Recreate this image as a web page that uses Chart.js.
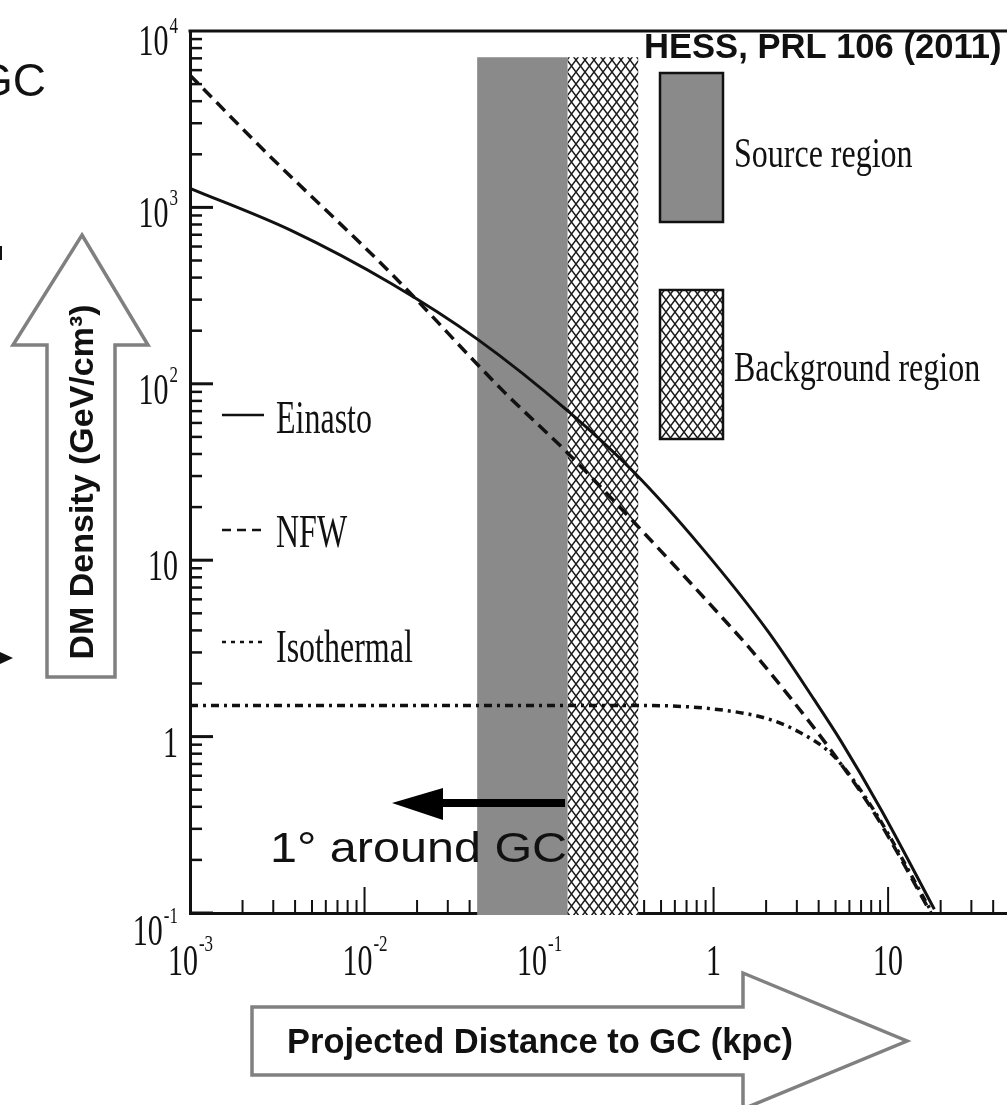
<!DOCTYPE html>
<html><head><meta charset="utf-8">
<script src="https://cdn.jsdelivr.net/npm/chart.js@4.4.0/dist/chart.umd.min.js"></script>
<style>html,body{margin:0;padding:0;background:#fff;overflow:hidden}canvas{display:block}</style>
</head><body><canvas id="c" width="1007" height="1105"></canvas>
<script>
// ---- data (kpc, GeV/cm^3) ----
const seriesNames = ['Einasto', 'NFW', 'Isothermal'];
const einastoX = [0.001, 0.00379, 0.0142, 0.0447, 0.1466, 0.350, 0.847, 2.05, 3.77, 5.38, 9.12, 18.4];
const einastoY = [1282, 740, 370, 178, 70, 31.5, 11.9, 3.95, 1.62, 0.94, 0.385, 0.105];
const nfwX = [0.001, 0.00265, 0.0142, 0.063, 0.1466, 0.350, 1.21, 1.64, 2.78, 4.91, 8.32, 17.6];
const nfwY = [5620, 2108, 422, 90, 40.3, 16.4, 4.35, 3.1, 1.64, 0.79, 0.37, 0.1];
const isoX = [0.001, 0.1, 0.42, 1.15, 2.05, 3.05, 4.91, 8.32, 17.6];
const isoY = [1.5, 1.5, 1.5, 1.41, 1.26, 1.07, 0.77, 0.38, 0.103];

const regionNames = ['Source region', 'Background region'];
const regionX0 = [0.0442, 0.146];
const regionX1 = [0.146, 0.37];
const regionTop = [7100, 7100];

const xMin = 0.001, xMax = 48, yMin = 0.1, yMax = 10000;
const xMajorTicks = [0.001, 0.01, 0.1, 1, 10];
const xTickBase = ['10', '10', '10', '1', '10'];
const xTickExp = ['-3', '-2', '-1', '', ''];
const yMajorTicks = [0.1, 1, 10, 100, 1000, 10000];
const yTickBase = ['10', '1', '10', '10', '10', '10'];
const yTickExp = ['-1', '', '', '2', '3', '4'];

const titleText = 'HESS, PRL 106 (2011)';
const xTitle = 'Projected Distance to GC (kpc)';
const yTitle = 'DM Density (GeV/cm³)';
const annoText = '1° around GC';

function pts(xs, ys) { return xs.map((x, i) => ({ x: x, y: ys[i] })); }

const SERIF = '"Liberation Serif", "Times New Roman", serif';
const SANS = '"Liberation Sans", Arial, sans-serif';

function sText(ctx, txt, x, y, px, sy, align, fam, weight, sx) {
  ctx.save();
  ctx.translate(x, y);
  ctx.scale(sx || 1, sy);
  ctx.font = (weight || 'normal') + ' ' + px + 'px ' + fam;
  ctx.textAlign = align || 'left';
  ctx.textBaseline = 'alphabetic';
  ctx.fillStyle = '#111';
  ctx.fillText(txt, 0, 0);
  ctx.restore();
}
function tw(ctx, txt, px, fam) { ctx.save(); ctx.font = px + 'px ' + fam; const w = ctx.measureText(txt).width; ctx.restore(); return w; }

function makeHatch(ctx) {
  const c = document.createElement('canvas');
  c.width = 9; c.height = 12;
  const g = c.getContext('2d');
  g.fillStyle = '#fff'; g.fillRect(0, 0, 9, 12);
  g.strokeStyle = '#1a1a1a'; g.lineWidth = 1.5;
  g.beginPath();
  g.moveTo(0, 0); g.lineTo(9, 12);
  g.moveTo(9, 0); g.lineTo(0, 12);
  g.stroke();
  return ctx.createPattern(c, 'repeat');
}

const GRAY = '#8a8a8a';

const overlay = {
  id: 'overlay',
  beforeDatasetsDraw(chart) {
    const ctx = chart.ctx, xs = chart.scales.x, ys = chart.scales.y, a = chart.chartArea;
    ctx.save();
    ctx.strokeStyle = '#111';
    for (let e = -1; e <= 3; e++) {
      for (let m = 1; m <= 9; m++) {
        const v = m * Math.pow(10, e);
        const py = ys.getPixelForValue(v);
        ctx.lineWidth = m === 1 ? 3 : 2.5;
        ctx.beginPath(); ctx.moveTo(a.left, py); ctx.lineTo(a.left + (m === 1 ? 23 : 12), py); ctx.stroke();
      }
    }
    for (let e = -3; e <= 1; e++) {
      for (let m = 1; m <= 9; m++) {
        const v = m * Math.pow(10, e);
        if (v > xMax) continue;
        const px = xs.getPixelForValue(v);
        ctx.lineWidth = 2;
        ctx.beginPath(); ctx.moveTo(px, a.bottom); ctx.lineTo(px, a.bottom - (m === 1 ? 26 : 13)); ctx.stroke();
      }
    }
    ctx.lineWidth = 3;
    ctx.beginPath(); ctx.moveTo(a.left - 1.5, a.top); ctx.lineTo(a.right, a.top); ctx.stroke();

    const hatch = makeHatch(ctx);
    for (let i = 0; i < regionNames.length; i++) {
      const x0 = xs.getPixelForValue(regionX0[i]), x1 = xs.getPixelForValue(regionX1[i]);
      const yt = ys.getPixelForValue(regionTop[i]);
      ctx.fillStyle = i === 0 ? GRAY : hatch;
      ctx.fillRect(x0, yt, x1 - x0, a.bottom + 2 - yt);
    }
    ctx.restore();
  },
  afterDraw(chart) {
    const ctx = chart.ctx, xs = chart.scales.x, ys = chart.scales.y, a = chart.chartArea;
    ctx.save();
    const FB = 30, FE = 17;
    for (let i = 0; i < xMajorTicks.length; i++) {
      const px = xs.getPixelForValue(xMajorTicks[i]);
      const wb = tw(ctx, xTickBase[i], FB, SERIF), we = xTickExp[i] ? tw(ctx, xTickExp[i], FE, SERIF) : 0;
      const sx = px - (wb + we) / 2;
      sText(ctx, xTickBase[i], sx, 975, FB, 1.45, 'left', SERIF);
      if (xTickExp[i]) sText(ctx, xTickExp[i], sx + wb + 1, 951, FE, 1.3, 'left', SERIF);
    }
    for (let i = 0; i < yMajorTicks.length; i++) {
      const py = ys.getPixelForValue(yMajorTicks[i]);
      let base = py + 20;
      if (i === 0) base = py + 32;
      if (i === yMajorTicks.length - 1) base = py + 24;
      const wb = tw(ctx, yTickBase[i], FB, SERIF), we = yTickExp[i] ? tw(ctx, yTickExp[i], FE, SERIF) : 0;
      const right = 178;
      const sx = right - wb - we - (we ? 1 : 0);
      sText(ctx, yTickBase[i], sx, base, FB, 1.45, 'left', SERIF);
      if (yTickExp[i]) sText(ctx, yTickExp[i], sx + wb + 1, base - 22, FE, 1.3, 'left', SERIF);
    }

    const legY = [415, 530, 642];
    const legTxtY = [433, 547, 662];
    const dashes = [[], [9, 6], [4, 5]];
    for (let i = 0; i < 3; i++) {
      ctx.strokeStyle = '#111'; ctx.lineWidth = 2.5;
      ctx.setLineDash(dashes[i]);
      ctx.beginPath(); ctx.moveTo(222, legY[i]); ctx.lineTo(264, legY[i]); ctx.stroke();
      ctx.setLineDash([]);
      sText(ctx, seriesNames[i], 276, legTxtY[i], 32, 1.43, 'left', SERIF);
    }

    const hatch = makeHatch(ctx);
    const boxY = [73, 290];
    const boxTxtY = [167, 381];
    for (let i = 0; i < 2; i++) {
      ctx.fillStyle = i === 0 ? GRAY : hatch;
      ctx.fillRect(660, boxY[i], 63, 149);
      ctx.strokeStyle = '#111'; ctx.lineWidth = 2.5;
      ctx.strokeRect(660, boxY[i], 63, 149);
      sText(ctx, regionNames[i], 734, boxTxtY[i], 32, 1.32, 'left', SERIF);
    }

    sText(ctx, titleText, 644, 58, 34.6, 1, 'left', SANS, 'bold');

    ctx.fillStyle = '#000';
    ctx.fillRect(440, 799, 125, 8);
    ctx.beginPath(); ctx.moveTo(392, 803); ctx.lineTo(443, 788); ctx.lineTo(443, 820); ctx.closePath(); ctx.fill();
    sText(ctx, annoText, 270, 862, 42, 1, 'left', SANS, 'normal', 1.155);

    sText(ctx, 'GC', 46, 96, 46, 1, 'right', SANS);
    ctx.fillStyle = '#111';
    ctx.fillRect(0, 246, 2, 14);
    ctx.beginPath(); ctx.moveTo(0, 652); ctx.lineTo(13, 658); ctx.lineTo(0, 664); ctx.closePath(); ctx.fill();

    ctx.strokeStyle = '#808080'; ctx.lineWidth = 3.5; ctx.lineJoin = 'miter';
    ctx.fillStyle = '#fff';
    ctx.beginPath();
    ctx.moveTo(82, 235); ctx.lineTo(148, 345); ctx.lineTo(115, 345); ctx.lineTo(115, 677);
    ctx.lineTo(47, 677); ctx.lineTo(47, 345); ctx.lineTo(13, 345); ctx.closePath();
    ctx.fill(); ctx.stroke();
    ctx.save();
    ctx.translate(93, 482); ctx.rotate(-Math.PI / 2);
    ctx.font = 'bold 34px ' + SANS; ctx.textAlign = 'center'; ctx.fillStyle = '#111';
    ctx.fillText(yTitle, 0, 0);
    ctx.restore();

    ctx.beginPath();
    ctx.moveTo(252, 1007); ctx.lineTo(743, 1007); ctx.lineTo(743, 973); ctx.lineTo(907, 1041);
    ctx.lineTo(743, 1109); ctx.lineTo(743, 1075); ctx.lineTo(252, 1075); ctx.closePath();
    ctx.fillStyle = '#fff'; ctx.fill(); ctx.stroke();
    sText(ctx, xTitle, 287, 1053, 34.5, 1, 'left', SANS, 'bold');
    ctx.restore();
  }
};

const lineBase = { showLine: true, pointRadius: 0, borderColor: '#111', borderWidth: 3, fill: false, cubicInterpolationMode: 'monotone' };

new Chart(document.getElementById('c'), {
  type: 'scatter',
  data: {
    datasets: [
      Object.assign({}, lineBase, { label: seriesNames[0], data: pts(einastoX, einastoY) }),
      Object.assign({}, lineBase, { label: seriesNames[1], data: pts(nfwX, nfwY), borderDash: [12, 7], borderWidth: 3.5 }),
      Object.assign({}, lineBase, { label: seriesNames[2], data: pts(isoX, isoY), borderDash: [8, 5, 3, 5], borderWidth: 3.5 })
    ]
  },
  options: {
    responsive: false, animation: false, events: [],
    layout: { padding: { left: 190, top: 31, right: 0, bottom: 192 } },
    plugins: { legend: { display: false }, tooltip: { enabled: false } },
    scales: {
      x: { type: 'logarithmic', min: xMin, max: xMax, position: 'bottom',
           ticks: { display: false }, grid: { display: false, drawTicks: false },
           border: { display: true, color: '#111', width: 3 },
           afterFit(s) { s.height = 0; } },
      y: { type: 'logarithmic', min: yMin, max: yMax, position: 'left',
           ticks: { display: false }, grid: { display: false, drawTicks: false },
           border: { display: true, color: '#111', width: 3 },
           afterFit(s) { s.width = 0; } }
    }
  },
  plugins: [overlay]
});
</script>
</body></html>
